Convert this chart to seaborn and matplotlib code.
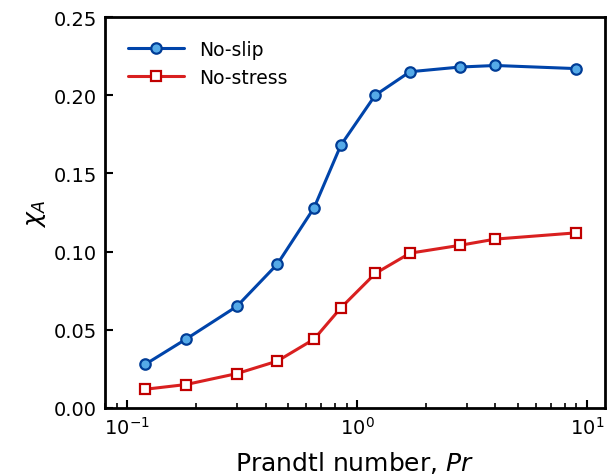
import matplotlib
matplotlib.use("Agg")
import matplotlib.pyplot as plt
import seaborn as sns
import pandas as pd

pr = [0.12, 0.18, 0.30, 0.45, 0.65, 0.85, 1.2, 1.7, 2.8, 4.0, 9.0]
no_slip = [0.028, 0.044, 0.065, 0.092, 0.128, 0.168, 0.200, 0.215, 0.218, 0.219, 0.217]
no_stress = [0.012, 0.015, 0.022, 0.030, 0.044, 0.064, 0.086, 0.099, 0.104, 0.108, 0.112]
labels = ["No-slip", "No-stress"]

sns.set_theme(style="white")
plt.rcParams['font.family'] = ['DejaVu Sans']
for k in ["text.color", "axes.labelcolor", "xtick.color", "ytick.color"]:
    plt.rcParams[k] = "black"

fig = plt.figure(figsize=(6.11, 4.77), dpi=100)
ax = fig.add_axes([105/611, 1-409/477, (605-105)/611, (409-18)/477])

df1 = pd.DataFrame({"Pr": pr, "chi": no_slip})
df2 = pd.DataFrame({"Pr": pr, "chi": no_stress})
sns.lineplot(data=df1, x="Pr", y="chi", ax=ax, color="#0044AA", lw=2.2,
             marker="o", markersize=7.5, markerfacecolor="#55AAE8",
             markeredgecolor="#003C96", markeredgewidth=1.6, label=labels[0])
sns.lineplot(data=df2, x="Pr", y="chi", ax=ax, color="#D92020", lw=2.2,
             marker="s", markersize=7.5, markerfacecolor="white",
             markeredgecolor="#C00000", markeredgewidth=1.6, label=labels[1])

ax.set_xscale("log")
ax.set_xlim(0.08, 12)
ax.set_ylim(0, 0.25)
ax.set_yticks([0, 0.05, 0.10, 0.15, 0.20, 0.25])
ax.set_yticklabels(["0.00", "0.05", "0.10", "0.15", "0.20", "0.25"])
ax.set_xlabel("Prandtl number, $\\mathit{Pr}$", fontsize=18, labelpad=8)
ax.set_ylabel("$\\chi_A$", fontsize=18)
ax.tick_params(axis="both", which="major", direction="in", length=6, width=1.5,
               labelsize=14, bottom=True, left=True, top=False, right=False, pad=6)
ax.tick_params(axis="x", which="minor", direction="in", length=3.5, width=1.2,
               bottom=True, top=False)
for s in ax.spines.values():
    s.set_linewidth(2)
    s.set_color("black")
leg = ax.legend(loc="upper left", fontsize=13.5, frameon=False, handlelength=3,
                borderaxespad=0.8)
fig.savefig("out.png", dpi=100)
